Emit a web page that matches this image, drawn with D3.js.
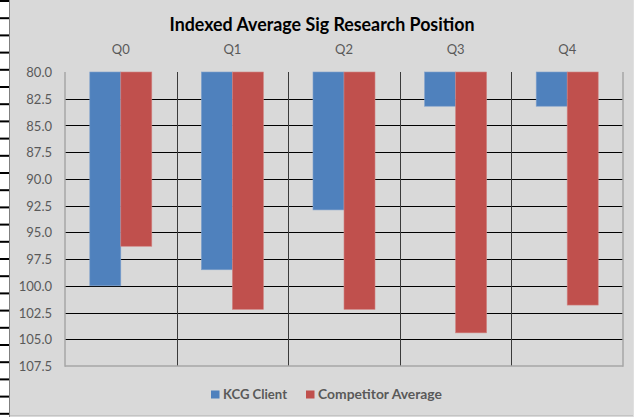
<!DOCTYPE html>
<html>
<head>
<meta charset="utf-8">
<script src="https://cdn.jsdelivr.net/npm/d3@7"></script>
<style>
  html, body { margin: 0; padding: 0; background: #ffffff; }
  svg { display: block; }
</style>
</head>
<body>
<svg id="chart" width="634" height="417"></svg>
<script>
// ---- data ----
const categories = ["Q0", "Q1", "Q2", "Q3", "Q4"];
const seriesNames = ["KCG Client", "Competitor Average"];
const kcgClient = [100.0, 98.5, 92.9, 83.2, 83.2];
const competitorAverage = [96.3, 102.2, 102.2, 104.4, 101.8];
const yTicks = [80.0, 82.5, 85.0, 87.5, 90.0, 92.5, 95.0, 97.5, 100.0, 102.5, 105.0, 107.5];
const seriesColors = ["#4f81bd", "#c0504d"];
const title = "Indexed Average Sig Research Position";

const FONT = "Lato, 'Open Sans', 'Noto Sans', sans-serif";
const svg = d3.select("#chart");
const W = 634, H = 417;
const plot = { left: 65, right: 623, top: 72, bottom: 366 };

// spreadsheet background strip at far left
const strip = svg.append("g");
d3.range(1, H, 17.2).forEach(yy => {
  strip.append("rect").attr("x", 0).attr("y", yy - 1).attr("width", 9).attr("height", 2).attr("fill", "#000");
});
[133, 235, 337, 440, 542].forEach(xx => {
  strip.append("rect").attr("x", xx).attr("y", 0).attr("width", 2).attr("height", 2).attr("fill", "#222");
});

// chart area
svg.append("rect").attr("x", 10).attr("y", 0).attr("width", W - 10).attr("height", H).attr("fill", "#d9d9d9");
svg.append("line").attr("x1", 9.5).attr("x2", 9.5).attr("y1", 0).attr("y2", H).attr("stroke", "#7f7f7f").attr("stroke-width", 1);
svg.append("line").attr("x1", 10).attr("x2", W).attr("y1", 415.5).attr("y2", 415.5).attr("stroke", "#c4c4c4").attr("stroke-width", 1);
svg.append("line").attr("x1", 633.5).attr("x2", 633.5).attr("y1", 0).attr("y2", H).attr("stroke", "#e0e0e0").attr("stroke-width", 1);

// scales
const x0 = d3.scaleBand().domain(categories).range([plot.left, plot.right]);
const bw = x0.bandwidth();
const groupW = 62;
const x1 = d3.scaleBand().domain(seriesNames).range([(bw - groupW) / 2, (bw + groupW) / 2]);
const y = d3.scaleLinear().domain([80, 107.5]).range([plot.top, plot.bottom]);

// horizontal gridlines
svg.append("g").selectAll("line").data(yTicks.filter(t => t > 80 && t < 107.5)).join("line")
  .attr("x1", plot.left).attr("x2", plot.right)
  .attr("y1", d => Math.round(y(d)) + 0.5).attr("y2", d => Math.round(y(d)) + 0.5)
  .attr("stroke", "#000").attr("stroke-width", 1);

// vertical category dividers
svg.append("g").selectAll("line").data(categories.slice(1)).join("line")
  .attr("x1", d => Math.round(x0(d)) + 0.5).attr("x2", d => Math.round(x0(d)) + 0.5)
  .attr("y1", plot.top).attr("y2", plot.bottom)
  .attr("stroke", "#3a3a3a").attr("stroke-width", 1);

// bars
const rows = categories.map((c, i) => ({ cat: c, values: [kcgClient[i], competitorAverage[i]] }));
const groups = svg.append("g").selectAll("g").data(rows).join("g")
  .attr("transform", d => `translate(${x0(d.cat)},0)`);
groups.selectAll("rect").data(d => d.values.map((v, j) => ({ name: seriesNames[j], v, j }))).join("rect")
  .attr("x", d => x1(d.name))
  .attr("width", x1.bandwidth())
  .attr("y", y(80))
  .attr("height", d => y(d.v) - y(80))
  .attr("fill", d => seriesColors[d.j])
  .attr("stroke", d => d.j === 0 ? "#7ea0cc" : "#d08482")
  .attr("stroke-width", 0.6);

// axis frame lines
const frame = svg.append("g").attr("stroke", "#a6a6a6").attr("stroke-width", 1.5);
frame.append("line").attr("x1", plot.left).attr("x2", plot.left).attr("y1", plot.top).attr("y2", plot.bottom + 0.75);
frame.append("line").attr("x1", plot.left).attr("x2", plot.right).attr("y1", plot.bottom).attr("y2", plot.bottom);
frame.append("line").attr("x1", plot.right).attr("x2", plot.right).attr("y1", plot.top).attr("y2", plot.bottom + 0.75);

// y axis labels (via d3 axis)
const yAxis = d3.axisLeft(y).tickValues(yTicks).tickFormat(d3.format(".1f")).tickSize(0).tickPadding(0);
const gy = svg.append("g").attr("transform", `translate(52,0)`).call(yAxis);
gy.select(".domain").remove();
gy.selectAll("text").attr("font-family", FONT).attr("font-size", 13)
  .attr("fill", "#595959").attr("dy", "0.35em");

// x axis labels on top
const xAxis = d3.axisTop(x0).tickSize(0).tickPadding(0);
const gx = svg.append("g").attr("transform", `translate(0,54)`).call(xAxis);
gx.select(".domain").remove();
gx.selectAll("text").attr("font-family", FONT).attr("font-size", 13)
  .attr("fill", "#595959");

// title
svg.append("text").attr("x", 322).attr("y", 31)
  .attr("text-anchor", "middle")
  .attr("font-family", FONT).attr("font-weight", "bold").attr("font-size", 18)
  .attr("fill", "#000")
  .attr("textLength", 305).attr("lengthAdjust", "spacingAndGlyphs")
  .text(title);

// legend
const legendItems = [
  { name: seriesNames[0], color: seriesColors[0], sx: 211, tx: 223, tw: 64 },
  { name: seriesNames[1], color: seriesColors[1], sx: 306, tx: 318, tw: 124 }
];
const lg = svg.append("g");
legendItems.forEach(it => {
  lg.append("rect").attr("x", it.sx).attr("y", 390.5).attr("width", 8.5).attr("height", 8).attr("fill", it.color);
  lg.append("text").attr("x", it.tx).attr("y", 399)
    .attr("font-family", FONT).attr("font-weight", "bold").attr("font-size", 13)
    .attr("fill", "#595959")
    .attr("textLength", it.tw).attr("lengthAdjust", "spacingAndGlyphs")
    .text(it.name);
});
</script>
</body>
</html>
